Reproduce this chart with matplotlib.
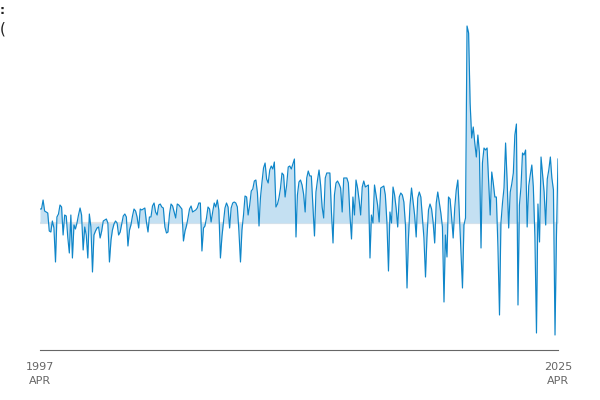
import numpy as np
import pandas as pd
import matplotlib
matplotlib.use("Agg")
import matplotlib.pyplot as plt

# monthly values, Apr 1997 .. Apr 2025
months = pd.date_range("1997-04-01", "2025-04-01", freq="MS")

vals_1997 = [14, 14, 23, 12, 11, 10, -8, -9, 2, -5,
             -39, 6, 9, 18, 16, -12, 8, 7, -14, -30,
             8, -35, -2, -6, 0, 8, 15, 8, -27, -4,
             -12, -35, 9, -4, -49, -12, -8, -5, -4, -15,
             -8, 2, 3, 4, 0, -39, -17, -7, -1, 2,
             0]
vals_2001 = [-12, -9, -1, 7, 9, 6, -23, -7, -2, 7,
             14, 12, 6, -5, 14, 13, 14, 15, 1, -9,
             6, 6, 17, 20, 11, 8, 18, 19, 16, 15,
             -4, -10, -9, 9, 19, 17, 11, 5, 19, 18,
             16, 14, -18, -8, -3, 5, 14, 17, 11, 12]
vals_2005 = [13, 15, 20, 20, -28, -5, -3, 5, 16, 14,
             1, 11, 20, 16, 23, 13, -35, -13, 0, 15,
             20, 16, -5, 15, 20, 21, 20, 16, -8, -39,
             -7, 8, 27, 26, 8, 18, 32, 34, 42, 43,
             30, -3, 25, 41, 55, 60, 44, 40, 53]
vals_2009 = [57, 54, 61, 16, 19, 25, 35, 50, 48, 26,
             38, 56, 57, 54, 59, 64, -14, 28, 41, 43,
             38, 29, 11, 45, 52, 47, 47, 18, -13, 31,
             43, 53, 38, 16, 5, 45, 50, 50, 50, 11,
             -20, 28, 40, 42, 39, 35, 11, 45]
vals_2013 = [45, 45, 40, 8, -16, 26, 8, 43, 35, 23,
             8, 36, 42, 36, 37, 38, -35, 8, 0, 38,
             28, 18, 1, 35, 36, 37, 28, 1, -48, 11,
             0, 36, 28, 15, -4, 26, 30, 28, 21, -2,
             -65, -16, 18, 35, 21, 8, -14, 25, 31]
vals_2017 = [26, 6, -15, -54, -15, 13, 19, 14, 1, -20,
             20, 31, 20, 10, -4, -79, -12, -34, 26, 24,
             6, -15, 15, 33, 43, 10, -27, -65, -2, 5,
             197, 190, 120, 85, 96, 80, 66, 88, 70, -25,
             60, 75, 73, 75, 43, 8, 51, 40, 26]
vals_2021 = [26, -24, -92, 0, 20, 35, 80, 43, -5, 31,
             39, 50, 88, 99, -82, 18, 36, 70, 68, 73,
             -4, 37, 48, 58, 36, -14, -110, 19, -19, 66,
             48, 31, -2, 44, 53, 66, 45, 33, -112, -14,
             64]

values = np.array(vals_1997 + vals_2001 + vals_2005 + vals_2009
                  + vals_2013 + vals_2017 + vals_2021, dtype=float)

tick_dates = [months[0], months[-1]]
tick_labels = ["1997\nAPR", "2025\nAPR"]

line_color = "#0f86c9"
fill_color = "#c4e0f2"
grey = "#666666"

fig = plt.figure(figsize=(6, 4), dpi=100)
ax = fig.add_axes([40 / 600, 50 / 400, 518 / 600, 330 / 400])

ax.axhline(0, color="#e4e4e4", lw=1.6, zorder=1)
ax.fill_between(months, values, 0, color=fill_color, lw=0, zorder=2)
ax.plot(months, values, color=line_color, lw=0.85, zorder=3)

ax.set_xlim(months[0], months[-1])
ax.set_ylim(-127, 203)

for side in ["top", "right", "left"]:
    ax.spines[side].set_visible(False)
ax.spines["bottom"].set_color(grey)
ax.spines["bottom"].set_linewidth(0.8)
ax.set_yticks([])
ax.set_xticks(tick_dates)
ax.set_xticklabels(tick_labels, color=grey, fontsize=8, linespacing=1.5)
ax.tick_params(axis="x", length=0, pad=9)

# clipped title pieces at the top left edge
fig.text(0.0, 1 - 10 / 400, ":", fontsize=9, fontweight="bold", color="#222222",
         ha="left", va="center")
fig.text(0.0, 1 - 29 / 400, "(", fontsize=11, color="#222222",
         ha="left", va="center")

fig.savefig("out.png", dpi=100)
